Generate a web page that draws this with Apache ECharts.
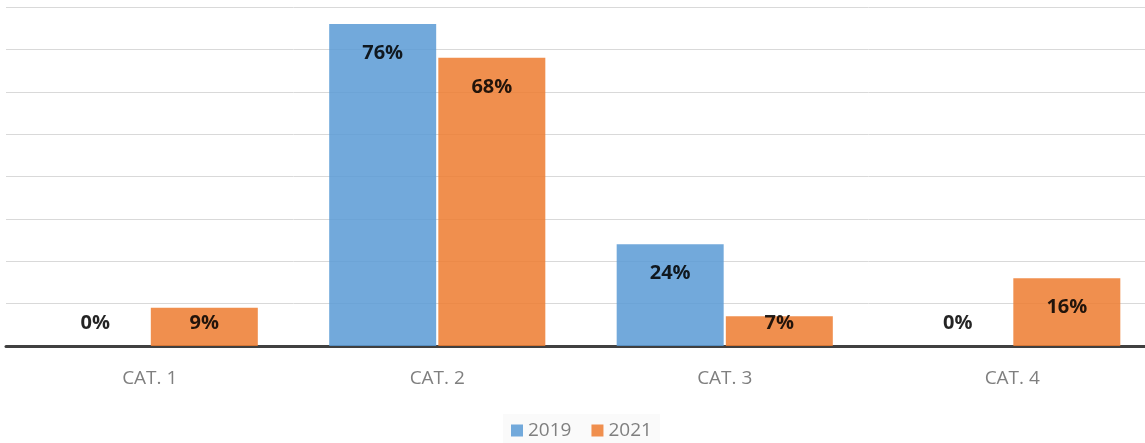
<!DOCTYPE html>
<html>
<head>
<meta charset="utf-8">
<script src="https://cdn.jsdelivr.net/npm/echarts@6/dist/echarts.min.js"></script>
<style>
  html, body { margin: 0; padding: 0; background: #fff; overflow: hidden; }
  #chart { width: 1160px; height: 443px; }
</style>
</head>
<body>
<div id="chart"></div>
<script>
var categories = ['CAT. 1', 'CAT. 2', 'CAT. 3', 'CAT. 4'];
var values2019 = [0, 76, 24, 0];
var values2021 = [9, 68, 7, 16];

var font = '"Open Sans", "Noto Sans", sans-serif';

// big bars get the label near the top, small ones sit just above the axis
function withLabels(values) {
    return values.map(function (v) {
        var big = v >= 12;
        return {
            value: v,
            label: {
                position: big ? 'insideTop' : 'insideBottom',
                distance: big ? 19 : 13
            }
        };
    });
}

var myChart = echarts.init(document.getElementById('chart'));
myChart.setOption({
    animation: false,
    grid: { left: 6, right: 4, top: 7, bottom: 97 },
    legend: {
        data: ['2019', '2021'],
        left: 503,
        bottom: -4,
        itemWidth: 12,
        itemHeight: 12,
        itemGap: 20,
        icon: 'rect',
        textStyle: { color: '#7f7f7f', fontSize: 19, fontFamily: font },
        backgroundColor: '#fafafa',
        padding: [7, 8]
    },
    xAxis: {
        type: 'category',
        data: categories,
        axisTick: { show: false },
        axisLine: { lineStyle: { color: '#404040', width: 3 } },
        axisLabel: { color: '#7f7f7f', fontSize: 19, fontFamily: font, margin: 23 }
    },
    yAxis: {
        type: 'value',
        min: 0,
        max: 80,
        interval: 10,
        axisLabel: { show: false },
        axisLine: { show: false },
        axisTick: { show: false },
        splitLine: { lineStyle: { color: '#d9d9d9', width: 1 } }
    },
    series: [{
        name: '2019',
        type: 'bar',
        data: withLabels(values2019),
        barWidth: 107,
        barGap: '2%',
        itemStyle: { color: '#5b9bd5', opacity: 0.86 },
        label: {
            show: true,
            formatter: '{c}%',
            color: '#000',
            fontWeight: 'bold',
            fontSize: 20,
            fontFamily: font
        }
    }, {
        name: '2021',
        type: 'bar',
        data: withLabels(values2021),
        barWidth: 107,
        itemStyle: { color: '#ed7d31', opacity: 0.86 },
        label: {
            show: true,
            formatter: '{c}%',
            color: '#000',
            fontWeight: 'bold',
            fontSize: 20,
            fontFamily: font
        }
    }]
});
</script>
</body>
</html>
